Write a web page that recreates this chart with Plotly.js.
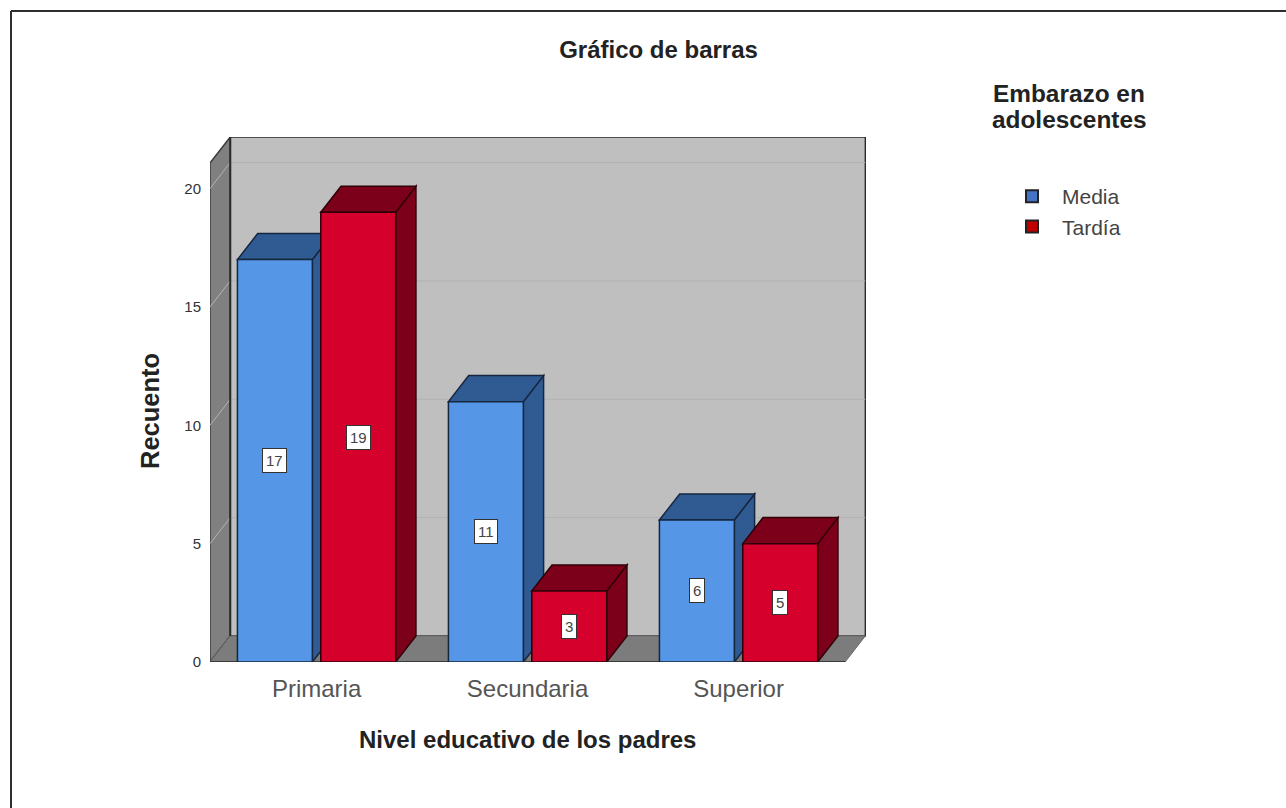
<!DOCTYPE html>
<html>
<head>
<meta charset="utf-8">
<script src="https://cdn.plot.ly/plotly-3.0.1.min.js"></script>
<style>html,body{margin:0;padding:0;background:#fff}#chart{width:1286px;height:808px}</style>
</head>
<body>
<div id="chart"></div>
<script>
// Pseudo-3D clustered bar chart: parent education level vs. adolescent pregnancy.
var categories = ["Primaria", "Secundaria", "Superior"];
var media = [17, 11, 6];
var tardia = [19, 3, 5];
var yTicks = [0, 5, 10, 15, 20];

var FONT = '"Liberation Sans", Arial, sans-serif';
var catPos = categories.map(function (_, i) { return i; });

// Extrusion depth and bar geometry, in axis units.
var depthX = 0.096, depthY = 1.10;
var barW = 0.355, barGap = 0.04;
var wallTop = 21.08;
var xMin = -0.505, xFront = 2.505, xMax = 2.604, yMax = 22.18;

// Plot box in page pixels, used to place page-level furniture.
var box = { l: 210, r: 866, t: 137, b: 662 };
function pageX(px) { return (px - box.l) / (box.r - box.l); }
function pageY(py) { return (box.b - py) / (box.b - box.t); }

var mediaColors = { front: "#5596e6", side: "#2f5b92", edge: "#16263f" };
var tardiaColors = { front: "#d5002c", side: "#7d001a", edge: "#300009" };

function poly(pts) {
  return "M" + pts.map(function (p) { return p[0] + "," + p[1]; }).join("L") + "Z";
}
function face(pts, fill, line, width) {
  return {
    type: "path", xref: "x", yref: "y", layer: "below", path: poly(pts),
    fillcolor: fill, line: { color: line, width: width === undefined ? 1.5 : width }
  };
}
function seg(x0, y0, x1, y1, color, width) {
  return {
    type: "line", xref: "x", yref: "y", layer: "below",
    x0: x0, y0: y0, x1: x1, y1: y1, line: { color: color, width: width }
  };
}

var shapes = [];

// Chart frame, open at the right and bottom edges of the page.
[[11, 11, 1286, 11], [11, 11, 11, 808]].forEach(function (c) {
  shapes.push({
    type: "line", xref: "paper", yref: "paper", layer: "below",
    x0: pageX(c[0]), y0: pageY(c[1]), x1: pageX(c[2]), y1: pageY(c[3]),
    line: { color: "#2e2e2e", width: 2 }
  });
});

// Walls and floor of the box.
var backX = xMin + depthX, backRight = xFront + depthX;
shapes.push(face([[backX, depthY], [backX, yMax], [backRight, yMax], [backRight, depthY]], "#bfbfbf", "#2b2b2b", 1.5));
shapes.push(face([[xMin, 0], [xMin, wallTop], [backX, yMax], [backX, depthY]], "#808080", "#3c3c3c", 1.5));
shapes.push(face([[xMin, 0], [backX, depthY], [backRight, depthY], [xFront, 0]], "#7c7c7c", "#6c6c6c", 1));

// Gridlines follow the side wall and then run along the back wall.
yTicks.forEach(function (t) {
  if (t === 0) return;
  shapes.push(seg(xMin, t, backX, t + depthY, "#b4b4b4", 1));
  shapes.push(seg(backX, t + depthY, backRight, t + depthY, "#b2b2b2", 1));
});
shapes.push(seg(backX, depthY, backX, yMax, "#2b2b2b", 2));

// Top and side faces; the front face of every bar is the bar trace itself.
function addFaces(values, shift, c) {
  values.forEach(function (v, i) {
    var l = catPos[i] + shift, r = l + barW;
    shapes.push(face([[r, 0], [r + depthX, depthY], [r + depthX, v + depthY], [r, v]], c.side, c.edge));
    shapes.push(face([[l, v], [l + depthX, v + depthY], [r + depthX, v + depthY], [r, v]], c.side, c.edge));
  });
}
var mediaShift = -barW - barGap / 2, tardiaShift = barGap / 2;
addFaces(media, mediaShift, mediaColors);
addFaces(tardia, tardiaShift, tardiaColors);

// Front edge of the floor.
shapes.push(seg(xMin, 0, xFront, 0, "#3a3a3a", 2));

function barTrace(name, values, shift, c) {
  return {
    type: "bar", name: name, x: catPos, y: values, width: barW, offset: shift,
    marker: { color: c.front, line: { color: c.edge, width: 1.5 } },
    showlegend: false, hoverinfo: "x+y"
  };
}
function legendTrace(name, color) {
  return {
    type: "bar", name: name, x: [null], y: [null],
    marker: { color: color, line: { color: "#222222", width: 2 } }
  };
}

var traces = [
  barTrace("Media", media, mediaShift, mediaColors),
  barTrace("Tardía", tardia, tardiaShift, tardiaColors),
  legendTrace("Media", "#4472c4"),
  legendTrace("Tardía", "#c00000")
];

// Value tags sit at the vertical middle of each bar.
function tags(values, shift) {
  return values.map(function (v, i) {
    return {
      x: catPos[i] + shift + barW / 2, y: v / 2, xref: "x", yref: "y",
      text: String(v), showarrow: false,
      font: { family: FONT, size: 15, color: "#444444" },
      bgcolor: "#ffffff", bordercolor: "#333333", borderwidth: 1, borderpad: 3
    };
  });
}

// Free-standing text placed by page position.
function pageText(text, px, py, size, angle) {
  return {
    xref: "paper", yref: "paper", x: pageX(px), y: pageY(py),
    xanchor: "center", yanchor: "middle", showarrow: false, borderpad: 0,
    textangle: angle || 0, text: "<b>" + text + "</b>",
    font: { family: FONT, size: size, color: "#222222" }
  };
}

var annotations = tags(media, mediaShift).concat(tags(tardia, tardiaShift));
annotations.push(pageText("Embarazo en", 1069, 93, 24.4));
annotations.push(pageText("adolescentes", 1069, 119, 24.4));
annotations.push(pageText("Nivel educativo de los padres", 527.5, 739, 24));
annotations.push(pageText("Recuento", 150, 411, 25.5, -90));

var layout = {
  width: 1286, height: 808,
  margin: { l: box.l, r: 1286 - box.r, t: box.t, b: 808 - box.b },
  paper_bgcolor: "#ffffff", plot_bgcolor: "rgba(0,0,0,0)",
  barmode: "overlay",
  title: {
    text: "<b>Gráfico de barras</b>", x: 658.5 / 1286, xanchor: "center",
    y: 1 - 50 / 808, yanchor: "middle",
    font: { family: FONT, size: 24, color: "#222222" }
  },
  xaxis: {
    range: [xMin, xMax], tickmode: "array", tickvals: catPos, ticktext: categories,
    showgrid: false, zeroline: false, showline: false, ticks: "", ticklabelstandoff: 10,
    tickfont: { family: FONT, size: 24, color: "#555555" }
  },
  yaxis: {
    range: [0, yMax], tickmode: "array", tickvals: yTicks, ticktext: yTicks.map(String),
    showgrid: false, zeroline: false, showline: false, ticks: "", ticklabelstandoff: 8,
    tickfont: { family: FONT, size: 15, color: "#333333" }
  },
  legend: {
    x: pageX(1002), y: pageY(176), xref: "paper", yref: "paper",
    xanchor: "left", yanchor: "top", itemwidth: 50, tracegroupgap: 0,
    font: { family: FONT, size: 21, color: "#444444" }, bgcolor: "rgba(0,0,0,0)"
  },
  shapes: shapes,
  annotations: annotations
};

Plotly.newPlot("chart", traces, layout, { displayModeBar: false, responsive: false });
</script>
</body>
</html>
